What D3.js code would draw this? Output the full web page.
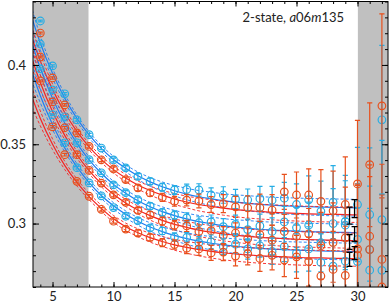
<!DOCTYPE html>
<html lang="en">
<head>
<meta charset="UTF-8">
<title>2-state a06m135</title>
<script src="https://cdn.jsdelivr.net/npm/d3@7"></script>
<style>
    html, body { margin: 0; padding: 0; background: #fff; }
    svg { display: block; }
    .tick text { font-family: Lato, "DejaVu Sans", sans-serif; font-size: 13px; fill: #222; }
    .label { font-family: Lato, "DejaVu Sans", sans-serif; font-size: 13px; fill: #222; }
</style>
</head>
<body>
<svg id="chart" width="390" height="305"></svg>
<script>
    // time slices
    const tData = [4, 5, 6, 7, 8, 9, 10, 11, 12, 13, 14, 15, 16, 17, 18, 19, 20, 21, 22, 23, 24, 25, 26, 27, 28, 29, 30, 31, 32];
    const tFit = [3, 4, 5, 6, 7, 8, 9, 10, 11, 12, 13, 14, 15, 16, 17, 18, 19, 20, 21, 22, 23, 24, 25, 26, 27, 28, 29, 30];

    // effective mass data (blue = cyan markers, red = orange markers)
    const blue1 = [.4277, .3994, .3818, .3654, .3560, .3476, .3401, .3351, .3298, .3266, .3229, .3212, .3215, .3212, .3180, .3180, .3155, .3150, .3157, .3147, .3160, .3120, .3150, .3077, .3135, .3014, .3120, .3057, .3654];
    const blue1Err = [.0006, .0006, .0007, .0008, .0009, .001, .0012, .0014, .0017, .002, .0024, .0028, .0033, .0039, .0045, .0052, .006, .0068, .0077, .0088, .010, .013, .015, .019, .023, .029, .036, .042, .047];
    const red1 = [.4201, .3918, .3748, .3572, .3486, .3402, .3344, .3277, .3225, .3193, .3165, .3140, .3148, .3142, .3120, .3126, .3105, .3099, .3100, .3085, .3200, .3180, .3180, .3140, .3080, .3120, .3250, .3371, .3742];
    const red1Err = [.0006, .0007, .0008, .0009, .001, .0011, .0013, .0016, .0019, .0022, .0026, .0031, .0036, .0043, .005, .0057, .0066, .0075, .0085, .0097, .011, .0145, .0165, .020, .025, .030, .040, .039, .058];
    const blue2 = [.4132, .3843, .3673, .3509, .3403, .3320, .3244, .3195, .3150, .3110, .3070, .3053, .3036, .3005, .3010, .2980, .2995, .2962, .2985, .2950, .3010, .2975, .2990, .2880, .3000, .2990, .2900, .2836, .3025];
    const blue2Err = [.0006, .0006, .0007, .0008, .0009, .001, .0012, .0014, .0016, .002, .0023, .0027, .0032, .0038, .0044, .0051, .0058, .0066, .0075, .0086, .0098, .0125, .0145, .0185, .022, .028, .035, .040, .050];
    const red2 = [.4050, .3767, .3604, .3434, .3335, .3255, .3181, .3134, .3083, .3055, .3015, .2990, .2985, .2950, .2955, .2925, .2940, .2905, .2930, .2895, .2950, .2920, .2935, .2860, .2880, .2910, .2799, .2836, .2774];
    const red2Err = [.0006, .0007, .0008, .0009, .001, .0011, .0013, .0015, .0018, .0021, .0025, .003, .0035, .0042, .0049, .0056, .0064, .0073, .0083, .0095, .0108, .014, .016, .021, .025, .032, .045, .046, .060];
    const blue3 = [.3975, .3686, .3509, .3352, .3256, .3175, .3101, .3046, .3018, .2972, .2953, .2915, .2912, .2880, .2885, .2855, .2870, .2840, .2860, .2825, .2855, .2815, .2840, .2755, .2731, .2763, .2760, .2706, .2705];
    const blue3Err = [.0006, .0006, .0007, .0008, .0009, .001, .0011, .0013, .0016, .0019, .0022, .0026, .0031, .0037, .0043, .0049, .0056, .0064, .0072, .0083, .0095, .012, .014, .018, .021, .027, .034, .039, .048];
    const red3 = [.3899, .3610, .3434, .3266, .3172, .3090, .3015, .2965, .2940, .2912, .2880, .2868, .2845, .2840, .2815, .2820, .2795, .2810, .2780, .2800, .2770, .2790, .2760, .2669, .2711, .2673, .2840, .2920, .2600];
    const red3Err = [.0006, .0007, .0008, .0009, .001, .0011, .0012, .0015, .0018, .0021, .0025, .0029, .0034, .0041, .0047, .0054, .0062, .0071, .0081, .0092, .0105, .0135, .0155, .020, .024, .031, .040, .045, .058];

    // 2-state fit curves, t = 3..30
    const blue1Fit = [.4372, .4138, .3947, .3791, .3663, .3559, .3474, .3404, .3348, .3301, .3263, .3232, .3207, .3186, .3169, .3156, .3144, .3135, .3128, .3121, .3116, .3112, .3109, .3106, .3104, .3102, .3101, .3099];
    const red1Fit = [.4243, .4024, .3846, .3700, .3581, .3484, .3405, .3340, .3287, .3243, .3208, .3179, .3155, .3136, .3120, .3108, .3097, .3088, .3081, .3076, .3071, .3067, .3064, .3061, .3059, .3058, .3056, .3055];
    const blue2Fit = [.4215, .3981, .3790, .3634, .3506, .3402, .3317, .3247, .3191, .3144, .3106, .3075, .3050, .3029, .3012, .2999, .2987, .2978, .2971, .2964, .2959, .2955, .2952, .2949, .2947, .2945, .2944, .2942];
    const red2Fit = [.4114, .3889, .3706, .3556, .3434, .3334, .3252, .3185, .3130, .3086, .3050, .3020, .2995, .2976, .2959, .2946, .2935, .2927, .2919, .2913, .2909, .2905, .2901, .2899, .2897, .2895, .2893, .2892];
    const blue3Fit = [.4027, .3806, .3625, .3477, .3357, .3258, .3177, .3112, .3058, .3014, .2978, .2949, .2925, .2905, .2889, .2876, .2866, .2857, .2850, .2844, .2839, .2835, .2832, .2830, .2827, .2826, .2824, .2823];
    const red3Fit = [.3862, .3663, .3500, .3367, .3259, .3170, .3096, .3030, .2980, .2942, .2911, .2887, .2866, .2850, .2836, .2825, .2816, .2808, .2802, .2797, .2793, .2790, .2787, .2784, .2783, .2781, .2780, .2779];
    // half width of the fit error band
    const blueBand = [.0065, .0045, .0032, .0025, .0021, .0019, .0019, .002, .0022, .0024, .0027, .003, .0033, .0036, .0039, .0042, .0044, .0046, .0048, .0049, .005, .0051, .0052, .0052, .0053, .0053, .0053, .0053];
    const redBand = [.0068, .0047, .0034, .0026, .0022, .002, .002, .0021, .0023, .0025, .0028, .0031, .0034, .0037, .004, .0042, .0044, .0045, .0046, .0047, .0047, .0048, .0048, .0048, .0048, .0048, .0048, .0048];

    // ground state energies (black bars)
    const e0Blue = [0.3094, 0.2934, 0.2814];
    const e0BlueErr = [0.0057, 0.0047, 0.0041];
    const e0Red = [0.3050, 0.2884, 0.2774];
    const e0RedErr = [0.0053, 0.0047, 0.0044];
    const e0BlueT = 29.76, e0RedT = 29.35;

    // excluded regions
    const grayRegions = [[3.4, 7.95], [30.03, 32.5]];

    const xTicks = [5, 10, 15, 20, 25, 30];
    const yTicks = [0.3, 0.35, 0.4];

    const colors = {
        blue: {pt: "#26ade4", line: "#1f7cf2"},
        red: {pt: "#e8501c", line: "#f52222"}
    };

    const series = [
        {v: blue1, e: blue1Err, fit: blue1Fit, band: blueBand, c: "blue"},
        {v: red1, e: red1Err, fit: red1Fit, band: redBand, c: "red"},
        {v: blue2, e: blue2Err, fit: blue2Fit, band: blueBand, c: "blue"},
        {v: red2, e: red2Err, fit: red2Fit, band: redBand, c: "red"},
        {v: blue3, e: blue3Err, fit: blue3Fit, band: blueBand, c: "blue"},
        {v: red3, e: red3Err, fit: red3Fit, band: redBand, c: "red"}
    ];

    const L = 33, R = 388, T = 1.5, B = 287;
    const x = d3.scaleLinear().domain([3.4, 32.5]).range([L, R]);
    const y = d3.scaleLinear().domain([0.26, 0.44]).range([B, T]);

    const svg = d3.select("#chart");

    svg.append("clipPath").attr("id", "plot")
        .append("rect").attr("x", L).attr("y", T).attr("width", R - L).attr("height", B - T);

    const g = svg.append("g").attr("clip-path", "url(#plot)");

    g.selectAll("rect.gray")
        .data(grayRegions)
        .enter().append("rect")
        .attr("class", "gray")
        .attr("x", d => x(d[0]))
        .attr("y", T)
        .attr("width", d => x(d[1]) - x(d[0]))
        .attr("height", B - T)
        .attr("fill", "#c0c0c0");

    const line = d3.line()
        .x(d => x(d[0]))
        .y(d => y(d[1]))
        .curve(d3.curveMonotoneX);

    // fit curves with dashed error bands
    series.forEach(s => {
        const col = colors[s.c].line;
        const mid = tFit.map((t, i) => [t, s.fit[i]]);
        const up = tFit.map((t, i) => [t, s.fit[i] + s.band[i]]);
        const lo = tFit.map((t, i) => [t, s.fit[i] - s.band[i]]);
        [up, lo].forEach(d => {
            g.append("path").attr("d", line(d))
                .attr("fill", "none").attr("stroke", col)
                .attr("stroke-width", 0.9).attr("stroke-dasharray", "3,2");
        });
        g.append("path").attr("d", line(mid))
            .attr("fill", "none").attr("stroke", col).attr("stroke-width", 1.2);
    });

    // data points with error bars
    const cap = 2.6;
    series.forEach(s => {
        const col = colors[s.c].pt;
        const pts = tData.map((t, i) => ({t: t, v: s.v[i], e: s.e[i]}));
        const pg = g.append("g").attr("stroke", col).attr("fill", "none").attr("stroke-width", 1.2);
        pts.forEach(p => {
            const px = x(p.t), y0 = y(p.v - p.e), y1 = y(p.v + p.e);
            pg.append("line").attr("x1", px).attr("x2", px).attr("y1", y0).attr("y2", y1);
            pg.append("line").attr("x1", px - cap).attr("x2", px + cap).attr("y1", y0).attr("y2", y0);
            pg.append("line").attr("x1", px - cap).attr("x2", px + cap).attr("y1", y1).attr("y2", y1);
        });
        pg.selectAll("circle")
            .data(pts)
            .enter().append("circle")
            .attr("cx", d => x(d.t))
            .attr("cy", d => y(d.v))
            .attr("r", 3.8);
    });

    // black ground state bars
    const bars = e0Blue.map((v, i) => ({t: e0BlueT, v: v, e: e0BlueErr[i]}))
        .concat(e0Red.map((v, i) => ({t: e0RedT, v: v, e: e0RedErr[i]})));
    const bg = g.append("g").attr("stroke", "#000").attr("stroke-width", 1.3);
    bars.forEach(b => {
        const px = x(b.t), y0 = y(b.v - b.e), y1 = y(b.v + b.e);
        bg.append("line").attr("x1", px).attr("x2", px).attr("y1", y0).attr("y2", y1);
        bg.append("line").attr("x1", px - 3).attr("x2", px + 3).attr("y1", y0).attr("y2", y0);
        bg.append("line").attr("x1", px - 3).attr("x2", px + 3).attr("y1", y1).attr("y2", y1);
    });

    // axes, ticks pointing inward on all four sides
    const xMinor = x.ticks(30).filter(t => Number.isInteger(t));
    const yMinor = d3.range(26, 45).map(d => d / 100);

    function addAxis(axis, transform, labels) {
        const a = svg.append("g").attr("transform", transform).call(axis);
        a.select(".domain").remove();
        a.selectAll(".tick line").attr("stroke", "#000");
        if (!labels) a.selectAll(".tick text").remove();
        return a;
    }

    addAxis(d3.axisBottom(x).tickValues(xMinor).tickSize(-2.5).tickFormat(""), `translate(0,${B})`, false);
    addAxis(d3.axisTop(x).tickValues(xMinor).tickSize(-2.5).tickFormat(""), `translate(0,${T})`, false);
    addAxis(d3.axisBottom(x).tickValues(xTicks).tickSize(-5).tickPadding(5).tickFormat(d3.format("d")), `translate(0,${B})`, true);
    addAxis(d3.axisTop(x).tickValues(xTicks).tickSize(-5).tickFormat(""), `translate(0,${T})`, false);

    addAxis(d3.axisLeft(y).tickValues(yMinor).tickSize(-3).tickFormat(""), `translate(${L},0)`, false);
    addAxis(d3.axisRight(y).tickValues(yMinor).tickSize(-3).tickFormat(""), `translate(${R},0)`, false);
    addAxis(d3.axisLeft(y).tickValues(yTicks).tickSize(-6).tickPadding(7).tickFormat(d => String(d)), `translate(${L},0)`, true);
    addAxis(d3.axisRight(y).tickValues(yTicks).tickSize(-6).tickFormat(""), `translate(${R},0)`, false);

    svg.append("rect")
        .attr("x", L).attr("y", T).attr("width", R - L).attr("height", B - T)
        .attr("fill", "none").attr("stroke", "#000").attr("stroke-width", 1);

    // annotation
    const label = svg.append("text").attr("class", "label")
        .attr("x", 344).attr("y", 22).attr("text-anchor", "end");
    label.append("tspan").text("2-state, ");
    label.append("tspan").attr("font-style", "italic").text("a");
    label.append("tspan").text("06");
    label.append("tspan").attr("font-style", "italic").text("m");
    label.append("tspan").text("135");
</script>
</body>
</html>
